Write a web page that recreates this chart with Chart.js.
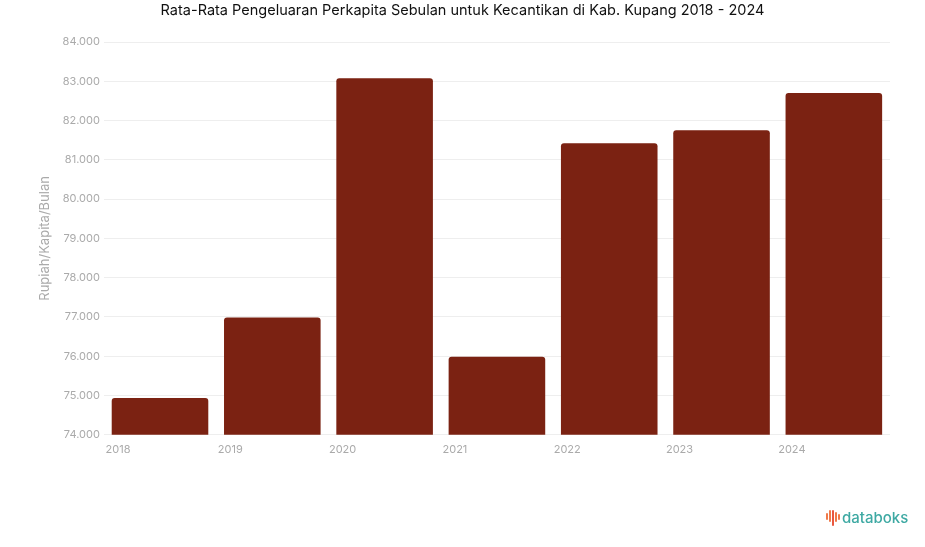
<!DOCTYPE html>
<html>
<head>
<meta charset="utf-8">
<script src="https://cdn.jsdelivr.net/npm/chart.js@4.4.0/dist/chart.umd.min.js"></script>
<style>
  html, body { margin: 0; padding: 0; background: #fff; }
  #wrap { position: relative; width: 925px; height: 547px; }
  #title { position: absolute; left: 0; top: 1px; width: 925px; text-align: center; font-family: Inter, sans-serif; font-size: 14.5px; line-height: 17px; color: #111; }
  #logo { position: absolute; left: 826px; top: 508px; font-family: Inter, sans-serif; font-size: 15px; color: #3ea9a3; font-weight: 500; display: flex; align-items: center; }
  #logo .ic { display: inline-flex; align-items: flex-start; gap: 1px; margin-right: 2px; height: 16px; }
  #logo .ic span { display: inline-block; width: 2px; background: #f07a4a; border-radius: 1px; }
</style>
</head>
<body>
<div id="wrap">
  <canvas id="chart" width="925" height="547"></canvas>
  <div id="title"></div>
  <div id="logo"><span class="ic"><span style="height:7px;margin-top:3px"></span><span style="height:12px"></span><span style="height:16px;background:#e9573f"></span><span style="height:10px;margin-top:2px"></span><span style="height:6px;margin-top:4px"></span></span>databoks</div>
</div>
<script>
const years = ["2018", "2019", "2020", "2021", "2022", "2023", "2024"];
const spending = [74940, 76985, 83080, 75990, 81420, 81755, 82700];
const yTicks = [74000, 75000, 76000, 77000, 78000, 79000, 80000, 81000, 82000, 83000, 84000];

const chartTitle = "Rata-Rata Pengeluaran Perkapita Sebulan untuk Kecantikan di Kab. Kupang 2018 - 2024";
const yTitle = "Rupiah/Kapita/Bulan";

document.getElementById("title").textContent = chartTitle;

function fmt(v) {
    return v.toLocaleString("de-DE");
}

const ctx = document.getElementById("chart").getContext("2d");
new Chart(ctx, {
    type: 'bar',
    data: {
        labels: years,
        datasets: [{
            label: yTitle,
            data: spending,
            backgroundColor: "#7b2212",
            borderRadius: 3,
            borderSkipped: false,
            barPercentage: 0.86,
            categoryPercentage: 1.0
        }]
    },
    options: {
        responsive: false,
        animation: false,
        layout: { padding: { left: 33, right: 35, top: 42, bottom: 91 } },
        plugins: {
            legend: { display: false },
            tooltip: { enabled: false },
            title: { display: false }
        },
        scales: {
            x: {
                grid: { display: false },
                border: { display: false },
                ticks: {
                    color: "#aaa",
                    font: { family: "Inter", size: 11 },
                    labelOffset: -42,
                    padding: 0
                }
            },
            y: {
                min: 74000,
                max: 84000,
                afterBuildTicks: axis => { axis.ticks = yTicks.map(v => ({ value: v })); },
                grid: { color: "#eeeeee", drawTicks: false },
                border: { display: false },
                ticks: {
                    color: "#aaa",
                    font: { family: "Inter", size: 11 },
                    padding: 4,
                    callback: v => fmt(v)
                },
                title: {
                    display: true,
                    text: yTitle,
                    color: "#aaa",
                    font: { family: "Inter", size: 13 },
                    padding: { bottom: 6 }
                }
            }
        }
    }
});
</script>
</body>
</html>
